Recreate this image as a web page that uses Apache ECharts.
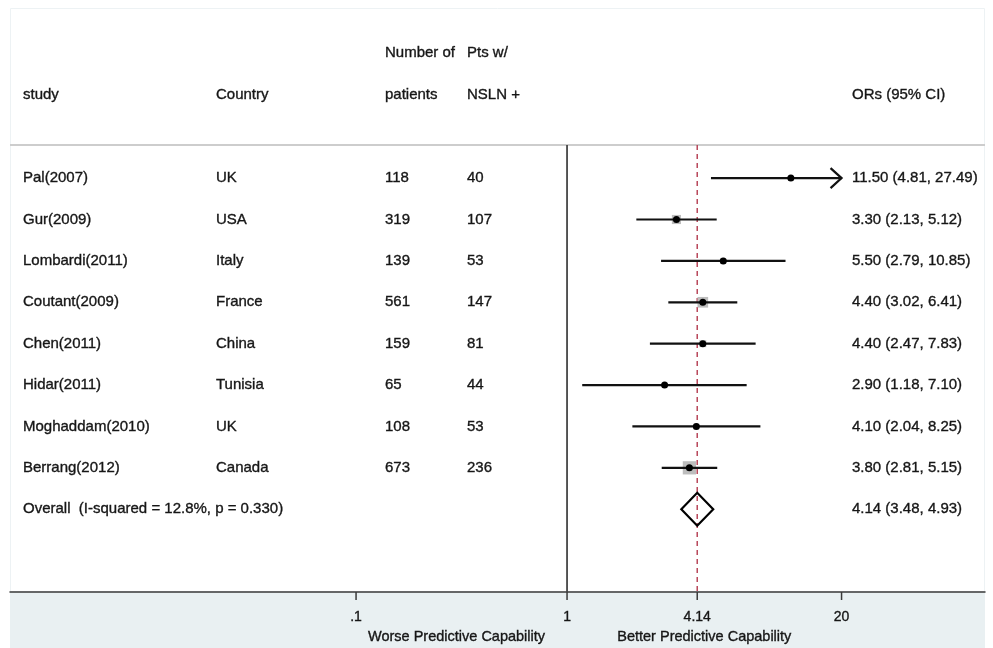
<!DOCTYPE html>
<html>
<head>
<meta charset="utf-8">
<script src="https://cdn.jsdelivr.net/npm/echarts@6/dist/echarts.min.js"></script>
<style>
  html, body { margin: 0; padding: 0; background: #ffffff; }
  #chart { width: 993px; height: 648px; }
</style>
</head>
<body>
<div id="chart"></div>
<script>
// ---- Study data ----
var studies   = ['Pal(2007)', 'Gur(2009)', 'Lombardi(2011)', 'Coutant(2009)', 'Chen(2011)', 'Hidar(2011)', 'Moghaddam(2010)', 'Berrang(2012)'];
var countries = ['UK', 'USA', 'Italy', 'France', 'China', 'Tunisia', 'UK', 'Canada'];
var patients  = [118, 319, 139, 561, 159, 65, 108, 673];
var nslnPos   = [40, 107, 53, 147, 81, 44, 53, 236];
var orValues  = [11.50, 3.30, 5.50, 4.40, 4.40, 2.90, 4.10, 3.80];
var ciLower   = [4.81, 2.13, 2.79, 3.02, 2.47, 1.18, 2.04, 2.81];
var ciUpper   = [27.49, 5.12, 10.85, 6.41, 7.83, 7.10, 8.25, 5.15];

// ---- Pooled estimate ----
var overallLabel = 'Overall  (I-squared = 12.8%, p = 0.330)';
var overallOR    = 4.14;
var overallLower = 3.48;
var overallUpper = 4.93;

// ---- Axis ticks ----
var tickValues = [0.1, 1, 4.14, 20];
var tickLabels = ['.1', '1', '4.14', '20'];
var sideLabels = ['Worse Predictive Capability', 'Better Predictive Capability'];

// ---- Layout / style ----
var FONT = '"Liberation Sans", Arial, sans-serif';
var TEXT_COLOR = '#161616';
var FS = 15;
var COL_X = { study: 23, country: 216, patients: 385, nsln: 467, ci: 852 };
var GRID = { left: 10, right: 8, top: 145, bottom: 56 };

function fmt2(v) { return v.toFixed(2); }
function ciText(o, l, u) { return fmt2(o) + ' (' + fmt2(l) + ', ' + fmt2(u) + ')'; }

// Inverse-variance weights (from the CI width on the log scale) size the grey boxes
var weights = orValues.map(function (o, i) {
  var se = (Math.log(ciUpper[i]) - Math.log(ciLower[i])) / 3.92;
  return 1 / (se * se);
});
var wSum = weights.reduce(function (a, b) { return a + b; }, 0);
var wPct = weights.map(function (w) { return 100 * w / wSum; });

var clipMax = tickValues[tickValues.length - 1];
var overallRow = studies.length + 1;

// Study rows: [or, lower, upper, row, weight%]
var studyData = orValues.map(function (o, i) {
  return [o, ciLower[i], ciUpper[i], i + 1, wPct[i]];
});

// Table text rows
var tableData = studies.map(function (s, i) { return [1, i + 1]; });
tableData.push([1, overallRow]);

var chart = echarts.init(document.getElementById('chart'), null, { renderer: 'canvas' });

function txt(x, y, text, align, size) {
  return {
    type: 'text',
    style: {
      x: x, y: y, text: text, fill: TEXT_COLOR,
      stroke: TEXT_COLOR, lineWidth: 0.35,
      font: (size || FS) + 'px ' + FONT,
      align: align || 'left', verticalAlign: 'middle'
    }
  };
}

var option = {
  backgroundColor: '#ffffff',
  animation: false,
  graphic: [
    // axis band
    { type: 'rect', z: -10, shape: { x: 10, y: 592, width: 975, height: 56 }, style: { fill: '#e9f0f2' } },
    // light outer frame
    { type: 'rect', z: -9, shape: { x: 10.5, y: 8.5, width: 974, height: 583 }, style: { fill: 'none', stroke: '#edf2f4', lineWidth: 1 } },
    // header separator
    { type: 'line', z: -8, shape: { x1: 10, y1: 145, x2: 985, y2: 145 }, style: { stroke: '#cdcdcd', lineWidth: 2 } },
    // header text
    txt(COL_X.patients, 53, 'Number of'),
    txt(COL_X.nsln, 53, 'Pts w/'),
    txt(COL_X.study, 95, 'study'),
    txt(COL_X.country, 95, 'Country'),
    txt(COL_X.patients, 95, 'patients'),
    txt(COL_X.nsln, 95, 'NSLN +'),
    txt(COL_X.ci, 95, 'ORs (95% CI)')
  ],
  grid: Object.assign({ outerBoundsMode: 'none', containLabel: false }, GRID),
  xAxis: {
    type: 'log',
    logBase: 10,
    min: 0.00229,
    max: 95.7,
    axisLine: { show: true, onZero: false, lineStyle: { color: '#3a3a3a', width: 1.5 } },
    axisTick: { show: false },
    axisLabel: { show: false },
    splitLine: { show: false }
  },
  yAxis: {
    type: 'value',
    inverse: true,
    min: 0.2,
    max: 11,
    show: false,
    splitLine: { show: false }
  },
  series: [
    // reference lines (null effect and pooled estimate)
    {
      type: 'custom',
      coordinateSystem: 'cartesian2d',
      data: [[1, 0.2], [overallOR, 0.2]],
      encode: { x: 0, y: 1 },
      z: 1,
      renderItem: function (params, api) {
        var x = api.coord([api.value(0), 0.2])[0];
        var top = api.coord([api.value(0), 0.2])[1];
        var bottom = api.coord([api.value(0), 11])[1];
        if (params.dataIndex === 0) {
          return { type: 'line', shape: { x1: x, y1: top, x2: x, y2: bottom },
                   style: { stroke: '#454545', lineWidth: 1.8 } };
        }
        return { type: 'line', shape: { x1: x, y1: top, x2: x, y2: bottom },
                 style: { stroke: '#b8475a', lineWidth: 1.5, lineDash: [5, 4] } };
      }
    },
    // study estimates: weight box, CI line, point
    {
      type: 'custom',
      coordinateSystem: 'cartesian2d',
      data: studyData,
      encode: { x: [0, 1, 2], y: 3 },
      z: 3,
      renderItem: function (params, api) {
        var row = api.value(3);
        var pO = api.coord([api.value(0), row]);
        var pL = api.coord([api.value(1), row]);
        var hi = api.value(2);
        var clipped = hi > clipMax;
        var pU = api.coord([clipped ? clipMax : hi, row]);
        var side = 2.3 * Math.sqrt(api.value(4));
        var children = [
          { type: 'rect', shape: { x: pO[0] - side / 2, y: pO[1] - side / 2, width: side, height: side },
            style: { fill: '#bdbdbd' } },
          { type: 'line', shape: { x1: pL[0], y1: pL[1], x2: pU[0], y2: pU[1] },
            style: { stroke: '#111111', lineWidth: 2.2 } },
          { type: 'circle', shape: { cx: pO[0], cy: pO[1], r: 3.5 }, style: { fill: '#000000' } }
        ];
        if (clipped) {
          children.push({ type: 'polyline',
            shape: { points: [[pU[0] - 11, pU[1] - 10], [pU[0], pU[1]], [pU[0] - 11, pU[1] + 10]] },
            style: { stroke: '#111111', lineWidth: 2.2, fill: 'none' } });
        }
        return { type: 'group', children: children };
      }
    },
    // pooled diamond
    {
      type: 'custom',
      coordinateSystem: 'cartesian2d',
      data: [[overallOR, overallLower, overallUpper, overallRow]],
      encode: { x: [0, 1, 2], y: 3 },
      z: 3,
      renderItem: function (params, api) {
        var row = api.value(3);
        var c = api.coord([api.value(0), row]);
        var l = api.coord([api.value(1), row]);
        var u = api.coord([api.value(2), row]);
        var h = 16.5;
        return { type: 'polygon',
          shape: { points: [[l[0], c[1]], [c[0], c[1] - h], [u[0], c[1]], [c[0], c[1] + h]] },
          style: { fill: 'rgba(255,255,255,0)', stroke: '#000000', lineWidth: 2.2 } };
      }
    },
    // table columns
    {
      type: 'custom',
      coordinateSystem: 'cartesian2d',
      data: tableData,
      encode: { x: 0, y: 1 },
      z: 4,
      renderItem: function (params, api) {
        var i = params.dataIndex;
        var y = api.coord([1, api.value(1)])[1];
        if (i < studies.length) {
          return { type: 'group', children: [
            txt(COL_X.study, y, studies[i]),
            txt(COL_X.country, y, countries[i]),
            txt(COL_X.patients, y, String(patients[i])),
            txt(COL_X.nsln, y, String(nslnPos[i])),
            txt(COL_X.ci, y, ciText(orValues[i], ciLower[i], ciUpper[i]))
          ] };
        }
        return { type: 'group', children: [
          txt(COL_X.study, y, overallLabel),
          txt(COL_X.ci, y, ciText(overallOR, overallLower, overallUpper))
        ] };
      }
    },
    // x-axis ticks and labels
    {
      type: 'custom',
      coordinateSystem: 'cartesian2d',
      data: tickValues.map(function (v) { return [v, 11]; }),
      encode: { x: 0, y: 1 },
      z: 5,
      renderItem: function (params, api) {
        var p = api.coord([api.value(0), 11]);
        var i = params.dataIndex;
        var children = [
          { type: 'line', shape: { x1: p[0], y1: p[1], x2: p[0], y2: p[1] + 8 },
            style: { stroke: '#3a3a3a', lineWidth: 1.5 } },
          txt(p[0], p[1] + 25, tickLabels[i], 'center', 14)
        ];
        if (i === 0) {
          var a = api.coord([Math.sqrt(tickValues[0] * tickValues[1]), 11]);
          var b = api.coord([Math.sqrt(tickValues[1] * tickValues[3]), 11]);
          children.push(txt(a[0] - 5, p[1] + 45, sideLabels[0], 'center', 14.5));
          children.push(txt(b[0], p[1] + 45, sideLabels[1], 'center', 14.5));
        }
        return { type: 'group', children: children };
      }
    }
  ]
};

chart.setOption(option);
</script>
</body>
</html>
